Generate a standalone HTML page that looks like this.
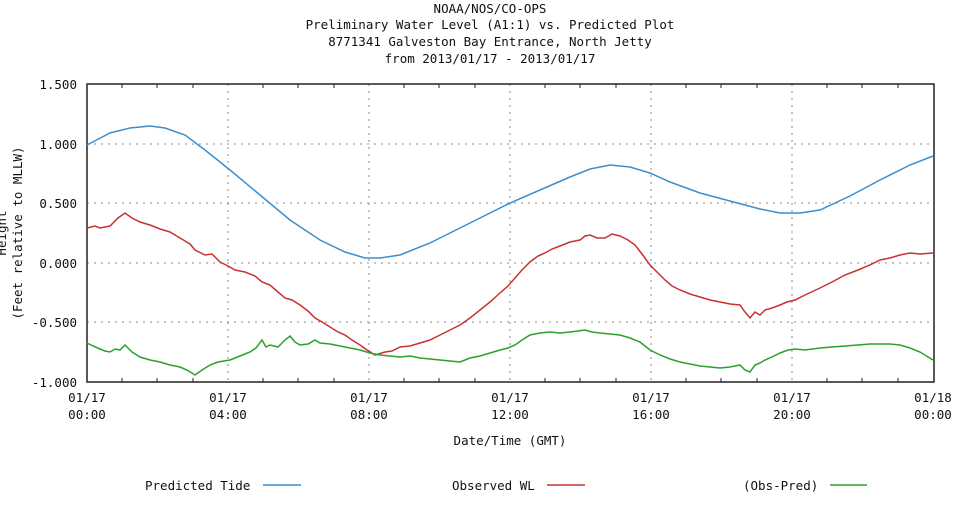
<!DOCTYPE html>
<html><head><meta charset="utf-8"><style>
body{margin:0;background:#fff;width:980px;height:514px;overflow:hidden}
svg text{font-family:"DejaVu Sans Mono","Liberation Mono",monospace;font-size:12.5px;fill:#111}
</style></head><body>
<svg width="980" height="514" xmlns="http://www.w3.org/2000/svg">
<g text-anchor="middle">
<text x="490" y="13">NOAA/NOS/CO-OPS</text>
<text x="490" y="29">Preliminary  Water Level (A1:1) vs. Predicted Plot</text>
<text x="490" y="46">8771341 Galveston Bay Entrance, North Jetty</text>
<text x="490" y="63">from 2013/01/17 - 2013/01/17</text>
</g>
<g stroke="#888" stroke-dasharray="2,5" stroke-width="1">
<line x1="87" x2="934" y1="144" y2="144"/><line x1="87" x2="934" y1="203" y2="203"/>
<line x1="87" x2="934" y1="263" y2="263"/><line x1="87" x2="934" y1="322" y2="322"/>
<line x1="228" x2="228" y1="84" y2="382"/><line x1="369" x2="369" y1="84" y2="382"/>
<line x1="510" x2="510" y1="84" y2="382"/><line x1="651" x2="651" y1="84" y2="382"/>
<line x1="792" x2="792" y1="84" y2="382"/>
</g>
<g stroke="#222" stroke-width="1">
<line x1="122" x2="122" y1="84" y2="88"/><line x1="157" x2="157" y1="84" y2="88"/><line x1="193" x2="193" y1="84" y2="88"/>
<line x1="263" x2="263" y1="84" y2="88"/><line x1="298" x2="298" y1="84" y2="88"/><line x1="334" x2="334" y1="84" y2="88"/>
<line x1="404" x2="404" y1="84" y2="88"/><line x1="439" x2="439" y1="84" y2="88"/><line x1="475" x2="475" y1="84" y2="88"/>
<line x1="545" x2="545" y1="84" y2="88"/><line x1="580" x2="580" y1="84" y2="88"/><line x1="616" x2="616" y1="84" y2="88"/>
<line x1="686" x2="686" y1="84" y2="88"/><line x1="721" x2="721" y1="84" y2="88"/><line x1="757" x2="757" y1="84" y2="88"/>
<line x1="827" x2="827" y1="84" y2="88"/><line x1="862" x2="862" y1="84" y2="88"/><line x1="898" x2="898" y1="84" y2="88"/>
<line x1="122" x2="122" y1="378" y2="382"/><line x1="157" x2="157" y1="378" y2="382"/><line x1="193" x2="193" y1="378" y2="382"/>
<line x1="263" x2="263" y1="378" y2="382"/><line x1="298" x2="298" y1="378" y2="382"/><line x1="334" x2="334" y1="378" y2="382"/>
<line x1="404" x2="404" y1="378" y2="382"/><line x1="439" x2="439" y1="378" y2="382"/><line x1="475" x2="475" y1="378" y2="382"/>
<line x1="545" x2="545" y1="378" y2="382"/><line x1="580" x2="580" y1="378" y2="382"/><line x1="616" x2="616" y1="378" y2="382"/>
<line x1="686" x2="686" y1="378" y2="382"/><line x1="721" x2="721" y1="378" y2="382"/><line x1="757" x2="757" y1="378" y2="382"/>
<line x1="827" x2="827" y1="378" y2="382"/><line x1="862" x2="862" y1="378" y2="382"/><line x1="898" x2="898" y1="378" y2="382"/>
</g>
<rect x="87" y="84" width="847" height="298" fill="none" stroke="#222" stroke-width="1.5"/>
<g text-anchor="end">
<text x="77" y="89">1.500</text><text x="77" y="149">1.000</text><text x="77" y="208">0.500</text>
<text x="77" y="268">0.000</text><text x="77" y="327">-0.500</text><text x="77" y="387">-1.000</text>
</g>
<g text-anchor="middle">
<text x="87" y="402">01/17</text><text x="87" y="419">00:00</text>
<text x="228" y="402">01/17</text><text x="228" y="419">04:00</text>
<text x="369" y="402">01/17</text><text x="369" y="419">08:00</text>
<text x="510" y="402">01/17</text><text x="510" y="419">12:00</text>
<text x="651" y="402">01/17</text><text x="651" y="419">16:00</text>
<text x="792" y="402">01/17</text><text x="792" y="419">20:00</text>
<text x="933" y="402">01/18</text><text x="933" y="419">00:00</text>
<text x="510" y="445">Date/Time (GMT)</text>
</g>
<text transform="translate(22,233) rotate(-90)" text-anchor="middle">(Feet relative to MLLW)</text>
<text transform="translate(6,233) rotate(-90)" text-anchor="middle">Height</text>
<polyline fill="none" stroke="#3a8fcf" stroke-width="1.5" points="87,145 110,133 130,128 150,126 165,128 185,135 205,150 230,170 260,195 290,220 320,240 345,252 365,258 380,258 400,255 430,243 460,228 490,213 510,203 540,190 570,177 590,169 610,165 630,167 650,173 670,182 700,193 730,201 760,209 780,213 800,213 820,210 850,196 880,180 910,165 933,156"/>
<polyline fill="none" stroke="#c83232" stroke-width="1.5" points="87,228 95,226 100,228 110,226 118,218 125,213 132,218 140,222 150,225 160,229 170,232 180,238 190,244 195,250 205,255 212,254 220,262 228,266 235,270 245,272 255,276 262,282 270,285 278,292 285,298 292,300 300,305 308,311 315,318 322,322 330,327 338,332 345,335 352,340 360,345 367,350 375,355 385,352 392,351 400,347 410,346 420,343 430,340 440,335 450,330 460,325 470,318 480,310 490,302 500,293 508,286 515,278 522,270 530,262 538,256 545,253 552,249 560,246 570,242 580,240 585,236 590,235 597,238 605,238 612,234 620,236 628,240 635,245 642,254 650,265 657,272 665,280 672,286 680,290 690,294 700,297 710,300 720,302 730,304 740,305 745,312 750,318 755,312 760,315 765,310 772,308 780,305 787,302 795,300 805,295 820,288 832,282 845,275 858,270 870,265 880,260 890,258 900,255 910,253 920,254 933,253"/>
<polyline fill="none" stroke="#2ca02c" stroke-width="1.5" points="87,343 93,346 100,349 105,351 110,352 115,349 120,350 125,345 132,352 140,357 150,360 160,362 170,365 180,367 187,370 195,375 202,370 210,365 218,362 230,360 240,356 250,352 256,348 262,340 266,347 270,345 278,347 285,340 290,336 295,342 300,345 308,344 315,340 320,343 330,344 340,346 350,348 360,350 370,353 380,355 390,356 400,357 410,356 420,358 430,359 440,360 450,361 460,362 470,358 480,356 490,353 500,350 508,348 515,345 522,340 530,335 540,333 550,332 560,333 570,332 578,331 585,330 592,332 600,333 610,334 620,335 630,338 640,342 650,350 660,355 670,359 680,362 690,364 700,366 710,367 720,368 730,367 740,365 745,370 750,372 755,365 760,363 765,360 772,357 780,353 788,350 795,349 805,350 820,348 832,347 845,346 858,345 870,344 880,344 890,344 900,345 910,348 920,352 933,360"/>
<text x="145" y="490">Predicted Tide</text>
<line x1="263" x2="301" y1="485" y2="485" stroke="#3a8fcf" stroke-width="1.5"/>
<text x="452" y="490">Observed WL</text>
<line x1="547" x2="585" y1="485" y2="485" stroke="#c83232" stroke-width="1.5"/>
<text x="743" y="490">(Obs-Pred)</text>
<line x1="830" x2="867" y1="485" y2="485" stroke="#2ca02c" stroke-width="1.5"/>
</svg>
</body></html>
